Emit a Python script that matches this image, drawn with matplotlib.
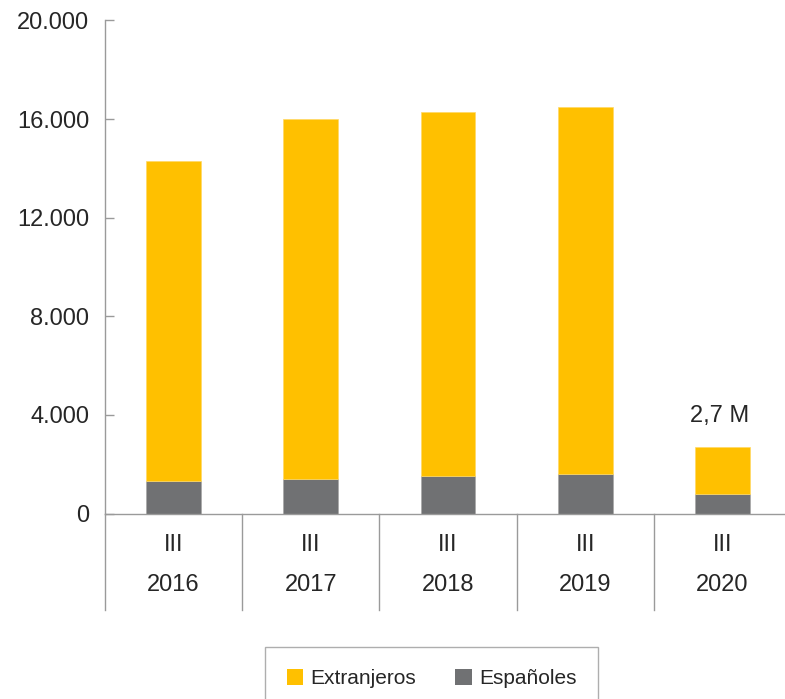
import matplotlib.pyplot as plt
from matplotlib.ticker import FuncFormatter, MultipleLocator
from matplotlib.patches import Patch

plt.rcParams['font.family'] = ['Liberation Sans', 'DejaVu Sans']

# ------------------------
# datos (miles)
# ------------------------
anios = ['2016', '2017', '2018', '2019', '2020']
trimestres = ['III', 'III', 'III', 'III', 'III']
espanoles = [1310, 1400, 1510, 1620, 780]
totales = [14320, 16020, 16270, 16480, 2700]
extranjeros = [t - e for t, e in zip(totales, espanoles)]
etiqueta_2020 = '2,7 M'

col_ext = '#FFC000'
col_esp = '#707173'
col_txt = '#262626'
col_eje = '#9a9a9a'

fig = plt.figure(figsize=(7.85, 6.99), dpi=100)
ax = fig.add_axes([105 / 785, (699 - 513.5) / 699, 686 / 785, 493 / 699])

x = list(range(len(anios)))
ax.bar(x, espanoles, width=0.4, color=col_esp, edgecolor='#a8a8a8', linewidth=0.5)
ax.bar(x, extranjeros, bottom=espanoles, width=0.4, color=col_ext,
       edgecolor='#ffd966', linewidth=0.5)

# etiqueta del último año
ax.text(x[-1] - 0.02, totales[-1] + 1250, etiqueta_2020, ha='center', va='center',
        fontsize=17, color=col_txt)

ax.set_xlim(-0.5, 4.5)
ax.set_ylim(0, 20000)
ax.yaxis.set_major_locator(MultipleLocator(4000))
ax.yaxis.set_major_formatter(FuncFormatter(lambda v, p: f"{int(v):,}".replace(',', '.')))
ax.tick_params(axis='y', direction='in', length=6.5, width=1, color=col_eje,
               pad=11.5, labelsize=17, labelcolor=col_txt)
ax.set_xticks([])

for s in ['top', 'right']:
    ax.spines[s].set_visible(False)
for s in ['left', 'bottom']:
    ax.spines[s].set_color(col_eje)
    ax.spines[s].set_linewidth(1)

# eje de categorías de dos niveles
trans = ax.get_xaxis_transform()
y_fondo = -(610 - 513.5) / 493
for xs in [-0.5, 0.5, 1.5, 2.5, 3.5, 4.5]:
    ax.plot([xs, xs], [0, y_fondo], transform=trans, color=col_eje, lw=1, clip_on=False)
for i in x:
    ax.text(i, -(545 - 513.5) / 493, trimestres[i], transform=trans, ha='center',
            va='center', fontsize=17, color=col_txt)
    ax.text(i, -(585 - 513.5) / 493, anios[i], transform=trans, ha='center',
            va='center', fontsize=17, color=col_txt)

# leyenda
handles = [Patch(facecolor=col_ext, label='Extranjeros'),
           Patch(facecolor=col_esp, label='Españoles')]
leg = fig.legend(handles=handles, loc='upper center', bbox_to_anchor=(431.5 / 785, 1 - 647 / 699),
                 ncol=2, fontsize=15, frameon=True, fancybox=False, handlelength=0.8,
                 handleheight=0.8, handletextpad=0.35, columnspacing=1.85,
                 borderpad=1.05, borderaxespad=0, labelcolor=col_txt)
leg.get_frame().set_edgecolor(col_eje)
leg.get_frame().set_linewidth(1)

fig.savefig('out.png', dpi=100)
